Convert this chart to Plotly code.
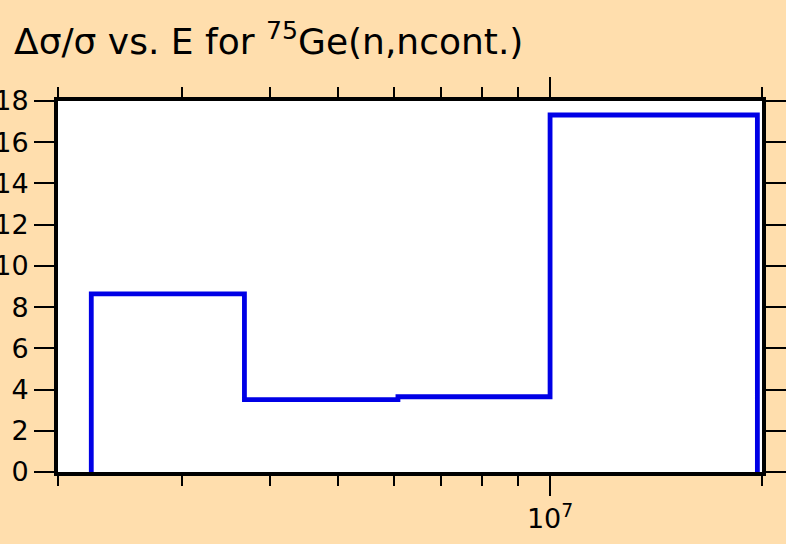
import plotly.graph_objects as go

# Data (group boundaries in eV, relative uncertainty)
energy_edges = [2.23e6, 3.68e6, 6.08e6, 1.0e7, 1.97e7]
rel_unc = [8.64, 3.51, 3.65, 17.32]

y_ticks = [0, 2, 4, 6, 8, 10, 12, 14, 16, 18]
x_major = [1e7]
x_major_text = ["10<sup>7</sup>"]
x_minor = [2e6, 3e6, 4e6, 5e6, 6e6, 7e6, 8e6, 9e6, 2e7]

xs = [energy_edges[0]] + energy_edges
ys = [0] + rel_unc + [0]

BG = "#FFDEAD"
FONT = "DejaVu Sans, Arial, sans-serif"

fig = go.Figure()
fig.add_trace(go.Scatter(
    x=xs, y=ys, mode="lines", line_shape="hv",
    line=dict(color="#0000E6", width=4.8), showlegend=False,
    hoverinfo="skip",
))

fig.update_layout(
    width=786, height=544,
    paper_bgcolor=BG, plot_bgcolor="white",
    margin=dict(l=58, r=24, t=101, b=72, autoexpand=False),
    font=dict(family=FONT, size=27, color="black"),
    title=dict(
        text="\u0394\u03c3/\u03c3 vs. E for <sup>75</sup>Ge(n,ncont.)",
        x=14 / 786, xanchor="left", xref="container",
        y=1 - 54 / 544, yanchor="bottom", yref="container",
        font=dict(family=FONT, size=36, color="black"),
    ),
)

fig.update_xaxes(
    type="log", range=[6.30103, 7.30103], automargin=False,
    tickmode="array", tickvals=x_major, ticktext=x_major_text,
    ticks="outside", ticklen=20, tickwidth=2, tickcolor="black",
    showline=True, linewidth=4, linecolor="black", mirror="allticks",
    showgrid=False, zeroline=False,
    tickfont=dict(family=FONT, size=27),
    minor=dict(tickmode="array", tickvals=x_minor, ticks="outside",
               ticklen=10, tickwidth=2, tickcolor="black", showgrid=False),
)
fig.update_yaxes(
    range=[0, 18], tickmode="array", tickvals=y_ticks, automargin=False,
    ticks="outside", ticklen=20, tickwidth=2, tickcolor="black",
    showline=True, linewidth=4, linecolor="black", mirror="allticks",
    showgrid=False, zeroline=False,
    tickfont=dict(family=FONT, size=27),
)

fig.write_html(
    "out.html",
    config={"displayModeBar": False},
    post_script="document.body.style.margin='0';document.body.style.overflow='hidden';",
)
